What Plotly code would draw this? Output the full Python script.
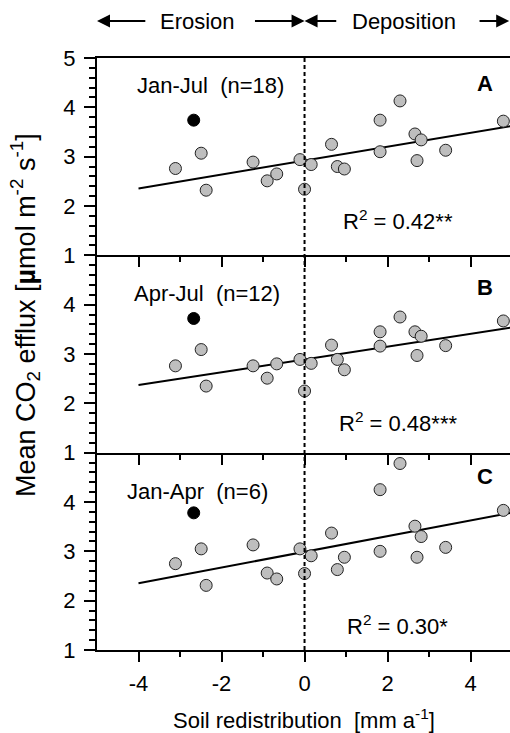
import plotly.graph_objects as go

# ---------------- data ----------------
soil_x = [-3.11, -2.49, -2.37, -1.24, -0.90, -0.67, -0.11, 0.00, 0.16, 0.65,
          0.79, 0.96, 1.82, 1.82, 2.30, 2.66, 2.71, 2.81, 3.40, 4.79]
flux_A = [2.76, 3.07, 2.32, 2.89, 2.51, 2.65, 2.94, 2.34, 2.84, 3.25,
          2.80, 2.75, 3.74, 3.10, 4.13, 3.46, 2.92, 3.34, 3.13, 3.72]
flux_B = [2.76, 3.09, 2.35, 2.76, 2.51, 2.80, 2.89, 2.25, 2.81, 3.18,
          2.89, 2.68, 3.45, 3.16, 3.75, 3.45, 2.97, 3.36, 3.17, 3.67]
flux_C = [2.75, 3.05, 2.31, 3.13, 2.56, 2.44, 3.05, 2.55, 2.91, 3.37,
          2.63, 2.88, 4.25, 3.00, 4.78, 3.51, 2.88, 3.30, 3.08, 3.83]
outlier_x = -2.67
outlier_y = [3.74, 3.72, 3.78]
fit_slope = [0.141, 0.130, 0.159]
fit_intercept = [2.92, 2.89, 2.99]
fit_x = [-4.0, 5.0]
period_labels = ["Jan-Jul\u00a0\u00a0(n=18)", "Apr-Jul\u00a0\u00a0(n=12)", "Jan-Apr\u00a0\u00a0(n=6)"]
panel_letters = ["A", "B", "C"]
r2_labels = ["R<sup>2</sup> = 0.42**", "R<sup>2</sup> = 0.48***", "R<sup>2</sup> = 0.30*"]
x_major = [-4, -2, 0, 2, 4]
x_major_text = ["-4", "-2", "0", "2", "4"]
x_minor = [-3, -1, 1, 3]

FONT = "Liberation Sans, Arial, sans-serif"
FS = 22

fig = go.Figure()
fluxes = [flux_A, flux_B, flux_C]
domains = [[2/3, 1.0], [1/3, 2/3], [0.0, 1/3]]
label_pos = [(-2.27, 4.45), (-2.34, 4.23), (-2.58, 4.21)]
letter_pos = [(4.34, 4.49), (4.34, 4.35), (4.34, 4.51)]
r2_pos = [(2.24, 1.71), (2.24, 1.63), (2.24, 1.51)]

for i in range(3):
    xa = "x" if i == 0 else f"x{i+1}"
    ya = "y" if i == 0 else f"y{i+1}"
    fy = [fit_intercept[i] + fit_slope[i] * v for v in fit_x]
    fig.add_trace(go.Scatter(x=fit_x, y=fy, mode="lines", xaxis=xa, yaxis=ya,
                             line=dict(color="black", width=2), showlegend=False))
    fig.add_trace(go.Scatter(x=soil_x, y=fluxes[i], mode="markers", xaxis=xa, yaxis=ya,
                             marker=dict(size=12, color="#BEBEBE",
                                         line=dict(color="#222222", width=1)),
                             cliponaxis=False, showlegend=False))
    fig.add_trace(go.Scatter(x=[outlier_x], y=[outlier_y[i]], mode="markers", xaxis=xa, yaxis=ya,
                             marker=dict(size=12, color="black",
                                         line=dict(color="black", width=1)),
                             cliponaxis=False, showlegend=False))
    xkey = "xaxis" if i == 0 else f"xaxis{i+1}"
    ykey = "yaxis" if i == 0 else f"yaxis{i+1}"
    fig.layout[xkey] = dict(
        domain=[0, 1], anchor=ya, range=[-5, 4.95],
        showline=True, linecolor="black", linewidth=2,
        mirror=(i == 0),
        ticks="outside", tickvals=x_major, ticktext=x_major_text,
        ticklen=10, tickwidth=2, tickcolor="black",
        showticklabels=(i == 2),
        minor=dict(tickvals=x_minor, ticks="outside", ticklen=5, tickwidth=2, tickcolor="black"),
        showgrid=False, zeroline=False,
        tickfont=dict(family=FONT, size=FS, color="black"),
        ticklabelstandoff=3,
    )
    fig.layout[ykey] = dict(
        domain=domains[i], anchor=xa, range=[1, 5],
        showline=True, linecolor="black", linewidth=2,
        ticks="outside", tickvals=[1, 2, 3, 4, 5] if i == 0 else [1, 2, 3, 4],
        ticklen=11, tickwidth=2, tickcolor="black",
        minor=dict(dtick=0.2, ticks="outside", ticklen=6, tickwidth=1.5, tickcolor="black"),
        showgrid=False, zeroline=False,
        tickfont=dict(family=FONT, size=FS, color="black"),
        ticklabelstandoff=4,
    )
    fig.add_annotation(x=label_pos[i][0], y=label_pos[i][1], xref=xa, yref=ya,
                       text=period_labels[i], showarrow=False,
                       xanchor="center", yanchor="middle",
                       font=dict(family=FONT, size=FS, color="black"))
    fig.add_annotation(x=letter_pos[i][0], y=letter_pos[i][1], xref=xa, yref=ya,
                       text=f"<b>{panel_letters[i]}</b>", showarrow=False,
                       xanchor="center", yanchor="middle",
                       font=dict(family=FONT, size=FS, color="black"))
    fig.add_annotation(x=r2_pos[i][0], y=r2_pos[i][1], xref=xa, yref=ya,
                       text=r2_labels[i], showarrow=False,
                       xanchor="center", yanchor="middle",
                       font=dict(family=FONT, size=FS, color="black"))

# vertical dashed line at 0 across all panels
fig.add_shape(type="line", xref="x", yref="paper", x0=0, x1=0, y0=0, y1=1,
              line=dict(color="black", width=2, dash="4px,3px"))

# top arrows
ARROW_Y = 1.0625
arrows = [(-5.0, -3.8), (0.0, -1.23), (0.0, 0.8), (4.93, 4.18)]
for head, tail in arrows:
    fig.add_annotation(x=head, y=ARROW_Y, xref="x", yref="paper",
                       ax=tail, ay=0, axref="x", ayref="pixel",
                       showarrow=True, arrowhead=2, arrowsize=1.3, arrowwidth=2,
                       arrowcolor="black", text="")
fig.add_annotation(x=-2.57, y=ARROW_Y, xref="x", yref="paper", text="Erosion",
                   showarrow=False, xanchor="center", yanchor="middle",
                   font=dict(family=FONT, size=FS, color="black"))
fig.add_annotation(x=2.4, y=ARROW_Y, xref="x", yref="paper", text="Deposition",
                   showarrow=False, xanchor="center", yanchor="middle",
                   font=dict(family=FONT, size=FS, color="black"))

# axis titles
fig.add_annotation(x=0.5, y=-0.117, xref="paper", yref="paper",
                   text="Soil redistribution\u00a0\u00a0[mm a<sup>-1</sup>]", showarrow=False,
                   xanchor="center", yanchor="middle",
                   font=dict(family=FONT, size=FS, color="black"))
fig.add_annotation(x=-0.174, y=0.566, xref="paper", yref="paper", textangle=-90,
                   text="Mean CO<sub>2</sub> efflux [<b>µ</b>mol m<sup>-2</sup> s<sup>-1</sup>]",
                   showarrow=False, xanchor="center", yanchor="middle",
                   font=dict(family=FONT, size=27, color="black"))

fig.update_layout(width=510, height=733,
                  margin=dict(l=97, r=0, t=58, b=83),
                  paper_bgcolor="white", plot_bgcolor="white",
                  showlegend=False)

fig.write_html("out.html")
